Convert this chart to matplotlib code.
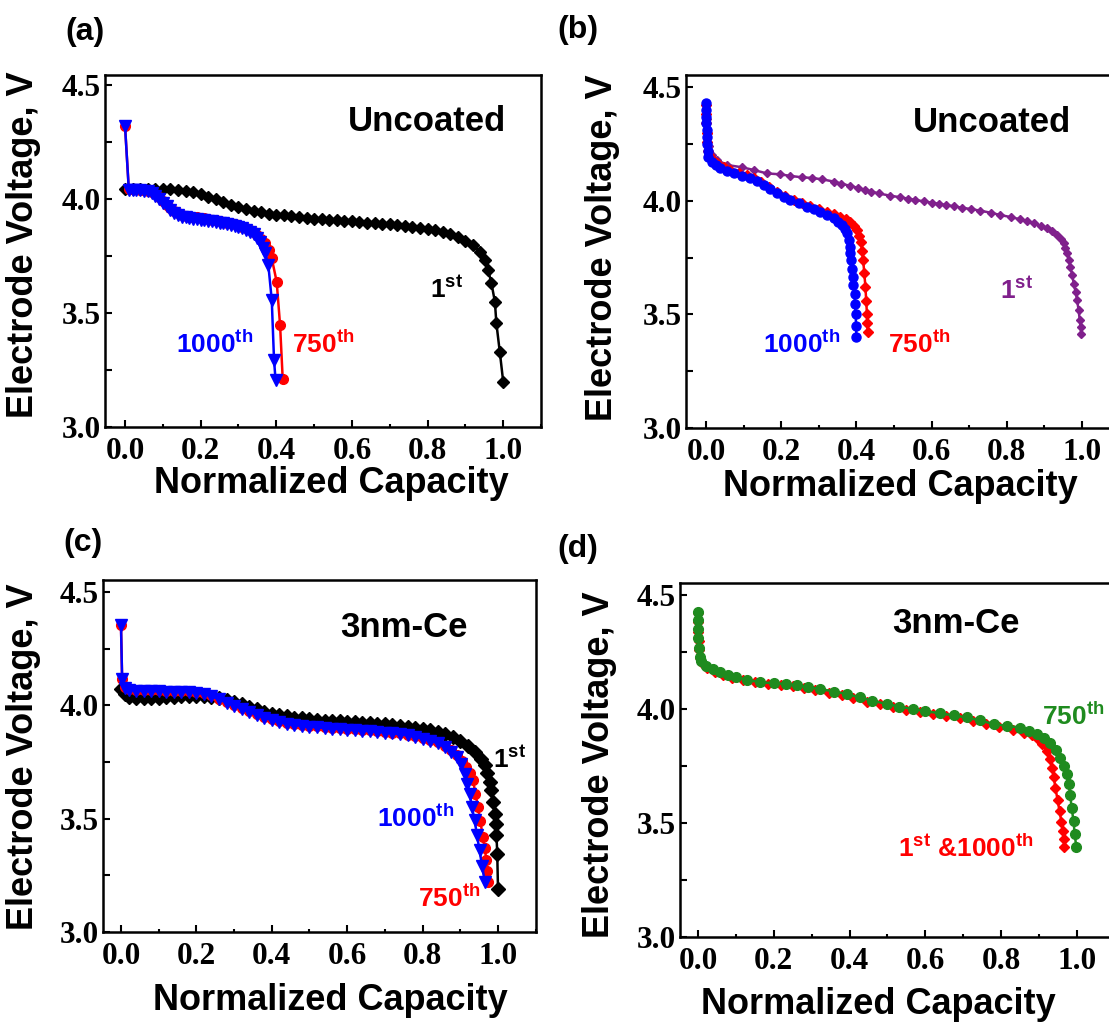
import matplotlib
matplotlib.use("Agg")
import matplotlib.pyplot as plt
from matplotlib.ticker import MultipleLocator, FixedLocator

plt.rcParams['mathtext.fontset'] = 'custom'
plt.rcParams['mathtext.rm'] = 'Liberation Sans:bold'
plt.rcParams['mathtext.it'] = 'Liberation Sans:bold'
plt.rcParams['mathtext.bf'] = 'Liberation Sans:bold'

# ---------------- data ----------------
# (a) Uncoated
a1_x = [0.00, 0.02, 0.04, 0.06, 0.08, 0.10, 0.12, 0.14, 0.16, 0.18, 0.20, 0.22, 0.24, 0.26, 0.28,
        0.30, 0.32, 0.34, 0.36, 0.38, 0.40, 0.42, 0.44, 0.46, 0.48, 0.50, 0.52, 0.54, 0.56, 0.58,
        0.60, 0.62, 0.64, 0.66, 0.68, 0.70, 0.72, 0.74, 0.76, 0.78, 0.80, 0.82, 0.84, 0.86, 0.88,
        0.90, 0.92, 0.94, 0.952, 0.960, 0.969, 0.978, 0.982, 0.991, 1.0]
a1_v = [4.045, 4.046, 4.046, 4.046, 4.046, 4.045, 4.043, 4.040, 4.036, 4.030, 4.022, 4.011, 3.999,
        3.987, 3.975, 3.964, 3.955, 3.947, 3.941, 3.936, 3.932, 3.928, 3.924, 3.920, 3.917, 3.914,
        3.911, 3.909, 3.906, 3.904, 3.902, 3.899, 3.897, 3.895, 3.892, 3.889, 3.886, 3.882, 3.878,
        3.873, 3.868, 3.862, 3.855, 3.846, 3.834, 3.818, 3.797, 3.768, 3.732, 3.689, 3.630, 3.550,
        3.455, 3.330, 3.199]
a750_x = [0.0, 0.01, 0.02, 0.03, 0.04, 0.05, 0.06, 0.07, 0.08, 0.09, 0.10, 0.11, 0.12, 0.13, 0.14,
          0.15, 0.16, 0.17, 0.18, 0.19, 0.20, 0.21, 0.22, 0.23, 0.24, 0.25, 0.26, 0.27, 0.28, 0.29,
          0.30, 0.31, 0.32, 0.33, 0.34, 0.35, 0.36, 0.37, 0.38, 0.388, 0.401, 0.410, 0.417]
a750_v = [4.32, 4.042, 4.042, 4.042, 4.041, 4.040, 4.037, 4.032, 4.022, 4.008, 3.992, 3.975, 3.960,
          3.947, 3.937, 3.930, 3.926, 3.923, 3.921, 3.919, 3.917, 3.915, 3.912, 3.910, 3.907, 3.904,
          3.901, 3.897, 3.893, 3.889, 3.885, 3.879, 3.872, 3.864, 3.855, 3.843, 3.826, 3.805, 3.775,
          3.740, 3.637, 3.447, 3.209]
a1000_x = [0.0, 0.01, 0.02, 0.03, 0.04, 0.05, 0.06, 0.07, 0.08, 0.09, 0.10, 0.11, 0.12, 0.13, 0.14,
           0.15, 0.16, 0.17, 0.18, 0.19, 0.20, 0.21, 0.22, 0.23, 0.24, 0.25, 0.26, 0.27, 0.28, 0.29,
           0.30, 0.31, 0.32, 0.33, 0.34, 0.35, 0.357, 0.365, 0.370, 0.379, 0.388, 0.394, 0.398]
a1000_v = [4.32, 4.040, 4.040, 4.040, 4.039, 4.037, 4.033, 4.027, 4.015, 4.000, 3.984, 3.968, 3.953,
           3.940, 3.930, 3.923, 3.919, 3.916, 3.914, 3.912, 3.910, 3.908, 3.905, 3.903, 3.900, 3.897,
           3.894, 3.890, 3.886, 3.882, 3.877, 3.871, 3.864, 3.856, 3.845, 3.830, 3.810, 3.785, 3.762,
           3.710, 3.557, 3.294, 3.207]

# (b) Uncoated
b1_x = [0.0, 0.002, 0.004, 0.007, 0.016, 0.029, 0.056, 0.096, 0.127, 0.162, 0.198, 0.224, 0.255,
        0.282, 0.309, 0.340, 0.360, 0.384, 0.405, 0.424, 0.440, 0.459, 0.490, 0.517, 0.537, 0.557,
        0.580, 0.601, 0.620, 0.637, 0.660, 0.681, 0.705, 0.730, 0.757, 0.783, 0.810, 0.836, 0.855,
        0.871, 0.890, 0.907, 0.920, 0.934, 0.944, 0.951, 0.956, 0.960, 0.965, 0.969, 0.974, 0.978,
        0.983, 0.987, 0.991, 0.994, 0.996, 0.998]
b1_v = [4.42, 4.36, 4.30, 4.24, 4.20, 4.18, 4.157, 4.147, 4.135, 4.120, 4.116, 4.109, 4.103, 4.100,
        4.094, 4.084, 4.075, 4.065, 4.056, 4.047, 4.040, 4.032, 4.022, 4.015, 4.009, 4.003, 3.997,
        3.991, 3.986, 3.981, 3.975, 3.969, 3.963, 3.956, 3.947, 3.937, 3.928, 3.918, 3.910, 3.900,
        3.890, 3.878, 3.865, 3.849, 3.832, 3.812, 3.790, 3.768, 3.740, 3.709, 3.672, 3.635, 3.598,
        3.562, 3.518, 3.474, 3.445, 3.415]
b750_x = [0.0, 0.0, 0.001, 0.002, 0.003, 0.005, 0.009, 0.018, 0.029, 0.047, 0.065, 0.087, 0.109,
          0.127, 0.145, 0.167, 0.189, 0.211, 0.233, 0.255, 0.277, 0.300, 0.322, 0.340, 0.357, 0.372,
          0.384, 0.394, 0.402, 0.408, 0.412, 0.415, 0.418, 0.421, 0.424, 0.426, 0.428, 0.429, 0.430]
b750_v = [4.42, 4.38, 4.34, 4.30, 4.26, 4.22, 4.20, 4.18, 4.165, 4.150, 4.135, 4.124, 4.113, 4.100,
          4.084, 4.062, 4.040, 4.020, 4.003, 3.990, 3.978, 3.965, 3.951, 3.940, 3.929, 3.918, 3.907,
          3.890, 3.871, 3.845, 3.819, 3.780, 3.738, 3.680, 3.621, 3.560, 3.503, 3.460, 3.422]
b1000_x = [0.0, 0.0, 0.001, 0.001, 0.002, 0.002, 0.003, 0.004, 0.006, 0.016, 0.027, 0.038, 0.056,
           0.074, 0.096, 0.118, 0.135, 0.153, 0.171, 0.189, 0.207, 0.224, 0.246, 0.269, 0.287, 0.304,
           0.322, 0.340, 0.352, 0.362, 0.370, 0.375, 0.379, 0.382, 0.384, 0.386, 0.388, 0.390, 0.392,
           0.395, 0.396, 0.398, 0.399, 0.400]
b1000_v = [4.43, 4.40, 4.37, 4.34, 4.31, 4.28, 4.25, 4.22, 4.194, 4.172, 4.157, 4.143, 4.131, 4.120,
           4.110, 4.099, 4.085, 4.069, 4.051, 4.032, 4.017, 4.003, 3.988, 3.974, 3.963, 3.951, 3.937,
           3.922, 3.908, 3.893, 3.875, 3.856, 3.827, 3.797, 3.768, 3.738, 3.700, 3.665, 3.628, 3.591,
           3.547, 3.503, 3.450, 3.400]

# (c) 3nm-Ce
c1_x = [0.00, 0.01, 0.02, 0.04, 0.06, 0.08, 0.10, 0.12, 0.14, 0.16, 0.18, 0.20, 0.22, 0.24, 0.26,
        0.28, 0.30, 0.32, 0.34, 0.36, 0.38, 0.40, 0.42, 0.44, 0.46, 0.48, 0.50, 0.52, 0.54, 0.56,
        0.58, 0.60, 0.62, 0.64, 0.66, 0.68, 0.70, 0.72, 0.74, 0.76, 0.78, 0.80, 0.82, 0.84, 0.86,
        0.88, 0.90, 0.92, 0.94, 0.955, 0.965, 0.972, 0.978, 0.982, 0.987, 0.991, 0.994, 0.996,
        0.998, 1.0]
c1_v = [4.074, 4.050, 4.036, 4.031, 4.031, 4.032, 4.034, 4.036, 4.038, 4.040, 4.042, 4.043, 4.042,
        4.038, 4.032, 4.025, 4.016, 4.005, 3.993, 3.982, 3.972, 3.964, 3.957, 3.951, 3.946, 3.942,
        3.939, 3.936, 3.933, 3.931, 3.929, 3.927, 3.925, 3.923, 3.921, 3.918, 3.916, 3.913, 3.909,
        3.905, 3.901, 3.896, 3.890, 3.882, 3.872, 3.860, 3.843, 3.822, 3.796, 3.765, 3.735, 3.700,
        3.660, 3.625, 3.575, 3.522, 3.475, 3.426, 3.346, 3.191]
c750_x = [0.000, 0.003, 0.010, 0.02, 0.04, 0.06, 0.08, 0.10, 0.12, 0.14, 0.16, 0.18, 0.20, 0.22,
          0.24, 0.26, 0.28, 0.30, 0.32, 0.34, 0.36, 0.38, 0.40, 0.42, 0.44, 0.46, 0.48, 0.50, 0.52,
          0.54, 0.56, 0.58, 0.60, 0.62, 0.64, 0.66, 0.68, 0.70, 0.72, 0.74, 0.76, 0.78, 0.80, 0.82,
          0.84, 0.86, 0.875, 0.89, 0.905, 0.916, 0.925, 0.934, 0.940, 0.947, 0.953, 0.960, 0.965,
          0.969, 0.972, 0.974]
c750_v = [4.353, 4.118, 4.080, 4.072, 4.068, 4.067, 4.066, 4.066, 4.065, 4.064, 4.063, 4.062, 4.060,
          4.054, 4.044, 4.030, 4.016, 4.003, 3.989, 3.975, 3.962, 3.950, 3.939, 3.929, 3.922, 3.917,
          3.913, 3.910, 3.907, 3.904, 3.901, 3.899, 3.896, 3.894, 3.892, 3.890, 3.887, 3.884, 3.880,
          3.876, 3.871, 3.865, 3.857, 3.848, 3.837, 3.822, 3.805, 3.783, 3.755, 3.728, 3.700, 3.669,
          3.610, 3.551, 3.490, 3.419, 3.370, 3.316, 3.270, 3.220]
c1000_x = [0.000, 0.003, 0.010, 0.02, 0.04, 0.06, 0.08, 0.10, 0.12, 0.14, 0.16, 0.18, 0.20, 0.22,
           0.24, 0.26, 0.28, 0.30, 0.32, 0.34, 0.36, 0.38, 0.40, 0.42, 0.44, 0.46, 0.48, 0.50, 0.52,
           0.54, 0.56, 0.58, 0.60, 0.62, 0.64, 0.66, 0.68, 0.70, 0.72, 0.74, 0.76, 0.78, 0.80, 0.82,
           0.84, 0.86, 0.875, 0.89, 0.902, 0.912, 0.918, 0.925, 0.931, 0.938, 0.944, 0.951, 0.958,
           0.965]
c1000_v = [4.353, 4.118, 4.076, 4.068, 4.064, 4.063, 4.062, 4.062, 4.061, 4.060, 4.059, 4.058, 4.056,
           4.050, 4.040, 4.026, 4.012, 3.999, 3.985, 3.971, 3.958, 3.946, 3.935, 3.925, 3.918, 3.913,
           3.909, 3.906, 3.903, 3.900, 3.897, 3.895, 3.892, 3.890, 3.888, 3.886, 3.883, 3.880, 3.876,
           3.872, 3.867, 3.861, 3.853, 3.844, 3.833, 3.815, 3.795, 3.772, 3.740, 3.699, 3.655, 3.610,
           3.550, 3.493, 3.430, 3.360, 3.290, 3.220]

# (d) 3nm-Ce
d750_x = [0.0, 0.0, 0.001, 0.001, 0.002, 0.004, 0.008, 0.022, 0.040, 0.057, 0.080, 0.101, 0.130,
          0.163, 0.200, 0.233, 0.260, 0.290, 0.322, 0.360, 0.392, 0.427, 0.460, 0.498, 0.530, 0.568,
          0.600, 0.639, 0.675, 0.709, 0.745, 0.780, 0.815, 0.850, 0.874, 0.894, 0.912, 0.930, 0.944,
          0.956, 0.966, 0.974, 0.978, 0.982, 0.986, 0.991, 0.994, 0.998]
d750_v = [4.426, 4.39, 4.35, 4.31, 4.27, 4.23, 4.21, 4.19, 4.175, 4.162, 4.150, 4.140, 4.128, 4.118,
          4.113, 4.110, 4.104, 4.096, 4.088, 4.077, 4.066, 4.051, 4.037, 4.022, 4.011, 4.000, 3.991,
          3.981, 3.972, 3.963, 3.950, 3.934, 3.926, 3.919, 3.905, 3.890, 3.874, 3.853, 3.822, 3.787,
          3.750, 3.713, 3.670, 3.625, 3.566, 3.507, 3.450, 3.397]
d1_x = [0.0, 0.0, 0.001, 0.002, 0.003, 0.005, 0.010, 0.025, 0.045, 0.065, 0.090, 0.120, 0.150, 0.185,
        0.220, 0.250, 0.280, 0.310, 0.345, 0.380, 0.410, 0.445, 0.480, 0.515, 0.550, 0.585, 0.620,
        0.655, 0.690, 0.725, 0.760, 0.795, 0.830, 0.860, 0.880, 0.894, 0.908, 0.921, 0.928, 0.934,
        0.939, 0.943, 0.949, 0.954, 0.959, 0.963, 0.966, 0.967]
d1_v = [4.42, 4.38, 4.34, 4.30, 4.26, 4.225, 4.20, 4.18, 4.163, 4.150, 4.138, 4.127, 4.118, 4.112,
        4.107, 4.100, 4.092, 4.083, 4.072, 4.060, 4.047, 4.033, 4.020, 4.007, 3.996, 3.987, 3.978,
        3.969, 3.960, 3.948, 3.935, 3.922, 3.910, 3.897, 3.886, 3.875, 3.848, 3.816, 3.780, 3.743,
        3.700, 3.654, 3.600, 3.551, 3.505, 3.463, 3.430, 3.397]

x_ticks = [0.0, 0.2, 0.4, 0.6, 0.8, 1.0]
x_ticklabels = ["0.0", "0.2", "0.4", "0.6", "0.8", "1.0"]
y_ticks = [3.0, 3.5, 4.0, 4.5]
y_ticklabels = ["3.0", "3.5", "4.0", "4.5"]

RED = '#FF0000'
BLUE = '#0000FF'
BLACK = '#000000'
PURPLE = '#80208C'
GREEN = '#1F8B1F'

W, H = 1109, 1026
fig = plt.figure(figsize=(W / 100, H / 100), dpi=100)


def make_ax(l, r, t, b, xlim, ylim):
    ax = fig.add_axes([l / W, 1 - b / H, (r - l) / W, (b - t) / H])
    ax.set_xlim(*xlim)
    ax.set_ylim(*ylim)
    for s in ax.spines.values():
        s.set_linewidth(1.8)
    ax.xaxis.set_major_locator(FixedLocator(x_ticks))
    ax.xaxis.set_minor_locator(MultipleLocator(0.1))
    ax.yaxis.set_major_locator(FixedLocator(y_ticks))
    ax.yaxis.set_minor_locator(MultipleLocator(0.25))
    ax.set_xticklabels(x_ticklabels, fontfamily='Liberation Serif', fontweight='bold', fontsize=22.5)
    ax.set_yticklabels(y_ticklabels, fontfamily='Liberation Serif', fontweight='bold', fontsize=22.5)
    ax.tick_params(which='major', direction='in', length=5, width=1.5, top=False, right=False)
    ax.tick_params(axis='x', which='major', pad=7)
    ax.tick_params(axis='y', which='major', pad=3)
    ax.tick_params(axis='x', which='minor', direction='in', length=2.5, width=1.5)
    ax.tick_params(axis='y', which='minor', direction='in', length=5, width=1.5)
    return ax


def lab(ax, x, y, s, color, size=19):
    ax.text(x, y, s, color=color, fontsize=size, fontfamily='Liberation Sans',
            fontweight='bold', ha='left', va='baseline')


def ylab(x, y):
    fig.text(x / W, 1 - y / H, 'Electrode Voltage, V', rotation=90, ha='center', va='center',
             fontsize=26, fontfamily='Liberation Sans', fontweight='bold')


def xlab(x, y):
    fig.text(x / W, 1 - y / H, 'Normalized Capacity', ha='center', va='center',
             fontsize=26, fontfamily='Liberation Sans', fontweight='bold')


def panel(x, y, s):
    fig.text(x / W, 1 - y / H, s, ha='center', va='center', fontsize=23,
             fontfamily='Liberation Sans', fontweight='bold')


# ---- (a)
ax = make_ax(105, 541, 75, 427, (-0.053, 1.10), (3.0, 4.544))
ax.plot(a1_x, a1_v, color=BLACK, lw=1.8, marker='D', ms=6.5, zorder=3)
ax.plot(a750_x, a750_v, color=RED, lw=1.8, marker='o', ms=7, zorder=4)
ax.plot(a1000_x, a1000_v, color=BLUE, lw=1.8, marker='v', ms=8, zorder=5)
lab(ax, 0.59, 4.30, 'Uncoated', BLACK, 25)
lab(ax, 0.807, 3.57, r'$1^{st}$', BLACK)
lab(ax, 0.135, 3.325, r'$1000^{th}$', BLUE)
lab(ax, 0.442, 3.325, r'$750^{th}$', RED)

# ---- (b)
ax = make_ax(686, 1120, 75, 428, (-0.0532, 1.101), (3.0, 4.553))
ax.plot(b1_x, b1_v, color=PURPLE, lw=1.8, marker='D', ms=4, zorder=3)
ax.plot(b750_x, b750_v, color=RED, lw=1.8, marker='D', ms=5.5, zorder=4)
ax.plot(b1000_x, b1000_v, color=BLUE, lw=1.8, marker='o', ms=6.5, zorder=5)
lab(ax, 0.55, 4.302, 'Uncoated', BLACK, 25)
lab(ax, 0.782, 3.572, r'$1^{st}$', PURPLE)
lab(ax, 0.152, 3.33, r'$1000^{th}$', BLUE)
lab(ax, 0.484, 3.33, r'$750^{th}$', RED)

# ---- (c)
ax = make_ax(103, 536, 580, 932, (-0.0477, 1.1008), (3.0, 4.553))
ax.plot(c1_x, c1_v, color=BLACK, lw=1.8, marker='D', ms=7, zorder=3)
ax.plot(c750_x, c750_v, color=RED, lw=1.8, marker='o', ms=7, zorder=4)
ax.plot(c1000_x, c1000_v, color=BLUE, lw=1.8, marker='v', ms=8.5, zorder=5)
lab(ax, 0.581, 4.30, '3nm-Ce', BLACK, 25)
lab(ax, 0.987, 3.728, r'$1^{st}$', BLACK)
lab(ax, 0.679, 3.463, r'$1000^{th}$', BLUE)
lab(ax, 0.788, 3.11, r'$750^{th}$', RED)

# ---- (d)
ax = make_ax(680, 1120, 583, 937, (-0.0475, 1.1135), (3.0, 4.553))
ax.plot(d1_x, d1_v, color=RED, lw=1.8, marker='D', ms=5.5, zorder=3)
ax.plot(d750_x, d750_v, color=GREEN, lw=1.8, marker='o', ms=7, zorder=4)
lab(ax, 0.512, 4.333, '3nm-Ce', BLACK, 25)
lab(ax, 0.908, 3.93, r'$750^{th}$', GREEN)
lab(ax, 0.528, 3.351, r'$1^{st}$ &$1000^{th}$', RED)

ylab(24, 245)
ylab(603, 248)
ylab(24, 757)
ylab(600, 765)
xlab(331, 483)
xlab(900, 487)
xlab(330, 1000)
xlab(878, 1005)
panel(85, 32, '(a)')
panel(578, 30, '(b)')
panel(83, 543, '(c)')
panel(578, 549, '(d)')

fig.savefig('out.png', dpi=100)
